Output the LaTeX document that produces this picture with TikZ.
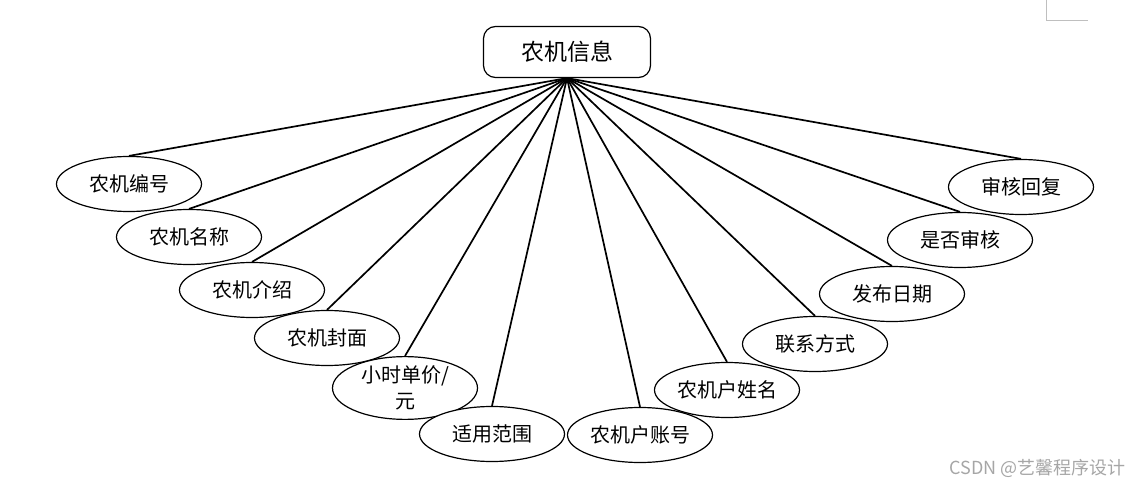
\documentclass[tikz,border=0pt]{standalone}
\usepackage{fontspec}
\newfontfamily\cjk{Noto Sans CJK SC}
\usetikzlibrary{shapes.geometric,backgrounds}
\tikzset{
  attr/.style={ellipse, draw, line width=1.2pt, fill=white, minimum width=145pt, minimum height=55pt, inner sep=0pt, font=\cjk\fontsize{20}{26}\selectfont, align=center},
  entity/.style={draw, rounded corners=12pt, line width=1.2pt, fill=white, minimum width=167pt, minimum height=51pt, inner sep=0pt, font=\cjk\fontsize{23}{26}\selectfont},
  link/.style={line width=1.7pt}
}
\begin{document}
\begin{tikzpicture}[x=1pt,y=-1pt]
\useasboundingbox (0,0) rectangle (1133,489);
\node[entity] (e) at (567,52) {农机信息};
\node[attr] (a1) at (129,184) {农机编号};
\node[attr] (a2) at (189,237) {农机名称};
\node[attr] (a3) at (252,290) {农机介绍};
\node[attr] (a4) at (327,338) {农机封面};
\node[attr] (a5) at (405,388) {小时单价/\\元};
\node[attr] (a6) at (492,434) {适用范围};
\node[attr] (a7) at (640,435) {农机户账号};
\node[attr] (a8) at (727,390) {农机户姓名};
\node[attr] (a9) at (815,344) {联系方式};
\node[attr] (a10) at (892,294) {发布日期};
\node[attr] (a11) at (960,240) {是否审核};
\node[attr] (a12) at (1021,187) {审核回复};
\begin{pgfonlayer}{background}
\foreach \i in {1,...,12} {
  \draw[link] (e.south) -- (a\i.north);
}
\end{pgfonlayer}
\draw[black!25, line width=1pt] (1046,0) -- (1046,21) -- (1088,21);
\node[text=black!35, font=\cjk\fontsize{18}{20}\selectfont, anchor=east] (wm) at (1129,468) {CSDN @艺馨程序设计};
\end{tikzpicture}
\end{document}
